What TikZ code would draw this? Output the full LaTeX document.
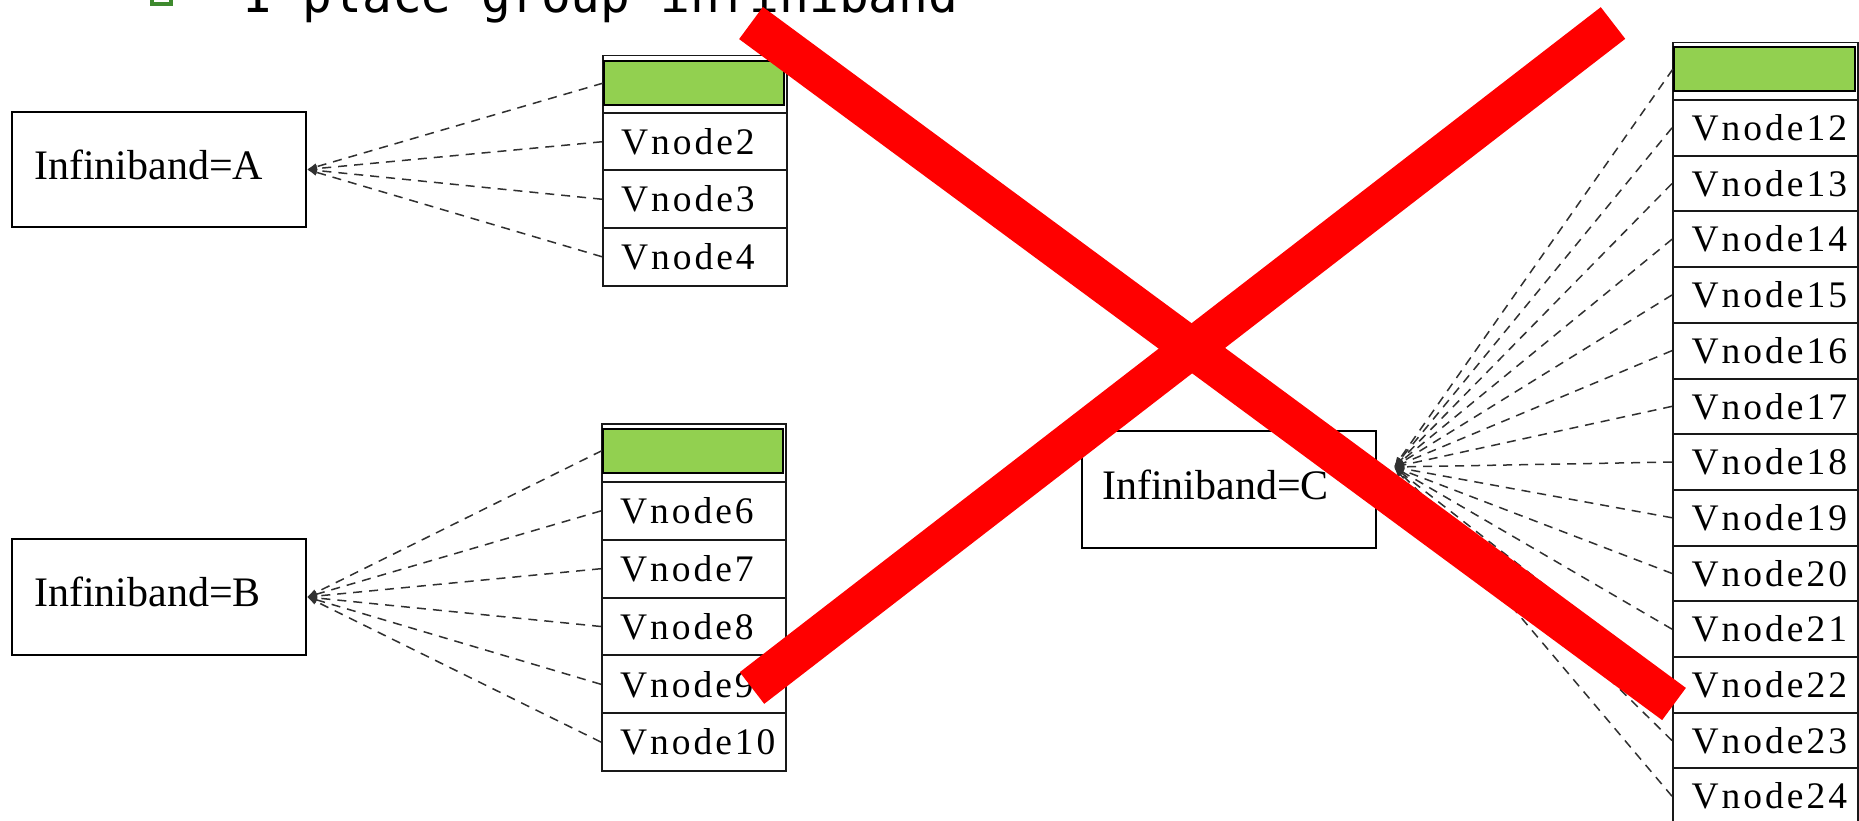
\documentclass[tikz,border=0pt]{standalone}
\usepackage{fontspec}
\setmainfont{Liberation Serif}
\newfontfamily\vfont[LetterSpace=8.0]{Liberation Serif}
\newfontfamily\mfont{DejaVu Sans Mono}
\usetikzlibrary{arrows.meta}
\definecolor{hdrgreen}{HTML}{92D050}
\definecolor{bulletgreen}{HTML}{3E8A2E}
\definecolor{edgegray}{HTML}{303030}
\tikzset{
  ibox/.style={draw=black, line width=1.8pt, minimum width=294pt, minimum height=115pt, inner sep=0pt},
  ilabel/.style={font=\fontsize{42}{48}\selectfont, inner sep=0pt, anchor=base west},
  outertab/.style={draw=black!90, line width=1.5pt, inner sep=0pt, anchor=north west, minimum width=184pt},
  hdr/.style={draw=black, fill=hdrgreen, line width=2.4pt, inner sep=0pt, minimum width=180pt, minimum height=44pt, anchor=north},
  vrow/.style={draw=black!90, line width=2pt, inner xsep=18pt, inner ysep=0pt, text width=148pt, align=left,
    minimum width=184pt, minimum height=#1, anchor=north west, font=\vfont\fontsize{37.5}{44}\selectfont},
  edgeline/.style={draw=edgegray, line width=1.5pt, dash pattern=on 9pt off 7pt, -{Latex[length=10pt,width=7pt]}},
  redx/.style={draw=red, line width=40pt, line cap=butt},
  titletext/.style={font=\mfont\fontsize{49.5}{56}\selectfont, anchor=base west, inner sep=0pt}
}
\begin{document}
\begin{tikzpicture}[x=1pt,y=-1pt]
\useasboundingbox (0,0) rectangle (1859,821);
\clip (0,0) rectangle (1859,821);
\fill[white] (0,0) rectangle (1859,821);

% title line (cut off at the top)
\draw[bulletgreen, line width=4pt, fill=white] (152,-18) rectangle (171,4);
\node[titletext] (title) at (243,13) {I place group infiniband};

% boxes
\node[ibox] (A) at (159,169.5) {};
\node[ibox, minimum height=116pt] (B) at (159,597) {};
\node[ibox, minimum height=117pt] (C) at (1229,489.5) {};
\node[ilabel] (Atxt) at ([xshift=23pt,yshift=-9.5pt]A.west) {Infiniband=A};
\node[ilabel] (Btxt) at ([xshift=23pt,yshift=-9.5pt]B.west) {Infiniband=B};
\node[ilabel] (Ctxt) at ([xshift=21pt,yshift=-9.5pt]C.west) {Infiniband=C};
\coordinate (Ctip) at (1394,467);

% table A
\node[outertab, minimum height=230pt] (tabA) at (602,55) {};
\node[hdr] (hA) at (694,60) {};
\foreach \i [count=\k from 0] in {2,3,4}
  \node[vrow=57.5pt] (v\i) at (602,{112+57.5*\k}) {Vnode\i};

% table B
\node[outertab, minimum height=347pt] (tabB) at (601,423) {};
\node[hdr] (hB) at (693,427.5) {};
\foreach \i [count=\k from 0] in {6,...,10}
  \node[vrow=57.8pt] (v\i) at (601,{481+57.8*\k}) {Vnode\i};

% table C
\node[outertab, minimum height=800pt, minimum width=185pt] (tabC) at (1672,42) {};
\node[hdr, minimum width=181pt] (hC) at (1764.5,46) {};
\foreach \i [count=\k from 0] in {12,...,24}
  \node[vrow=55.7pt, minimum width=185pt] (v\i) at (1672,{99+55.7*\k}) {Vnode\i};

% connectors
\draw[edgeline] (hA.west) -- (A.east);
\foreach \i in {2,3,4} \draw[edgeline] (v\i.west) -- (A.east);
\draw[edgeline] (hB.west) -- (B.east);
\foreach \i in {6,...,10} \draw[edgeline] (v\i.west) -- (B.east);
\draw[edgeline] (hC.west) -- (Ctip);
\foreach \i in {12,...,24} \draw[edgeline] (v\i.west) -- (Ctip);

% red cross
\draw[redx] (751,23) -- (1674,704);
\draw[redx] (1613,23) -- (752,688);
\end{tikzpicture}
\end{document}
